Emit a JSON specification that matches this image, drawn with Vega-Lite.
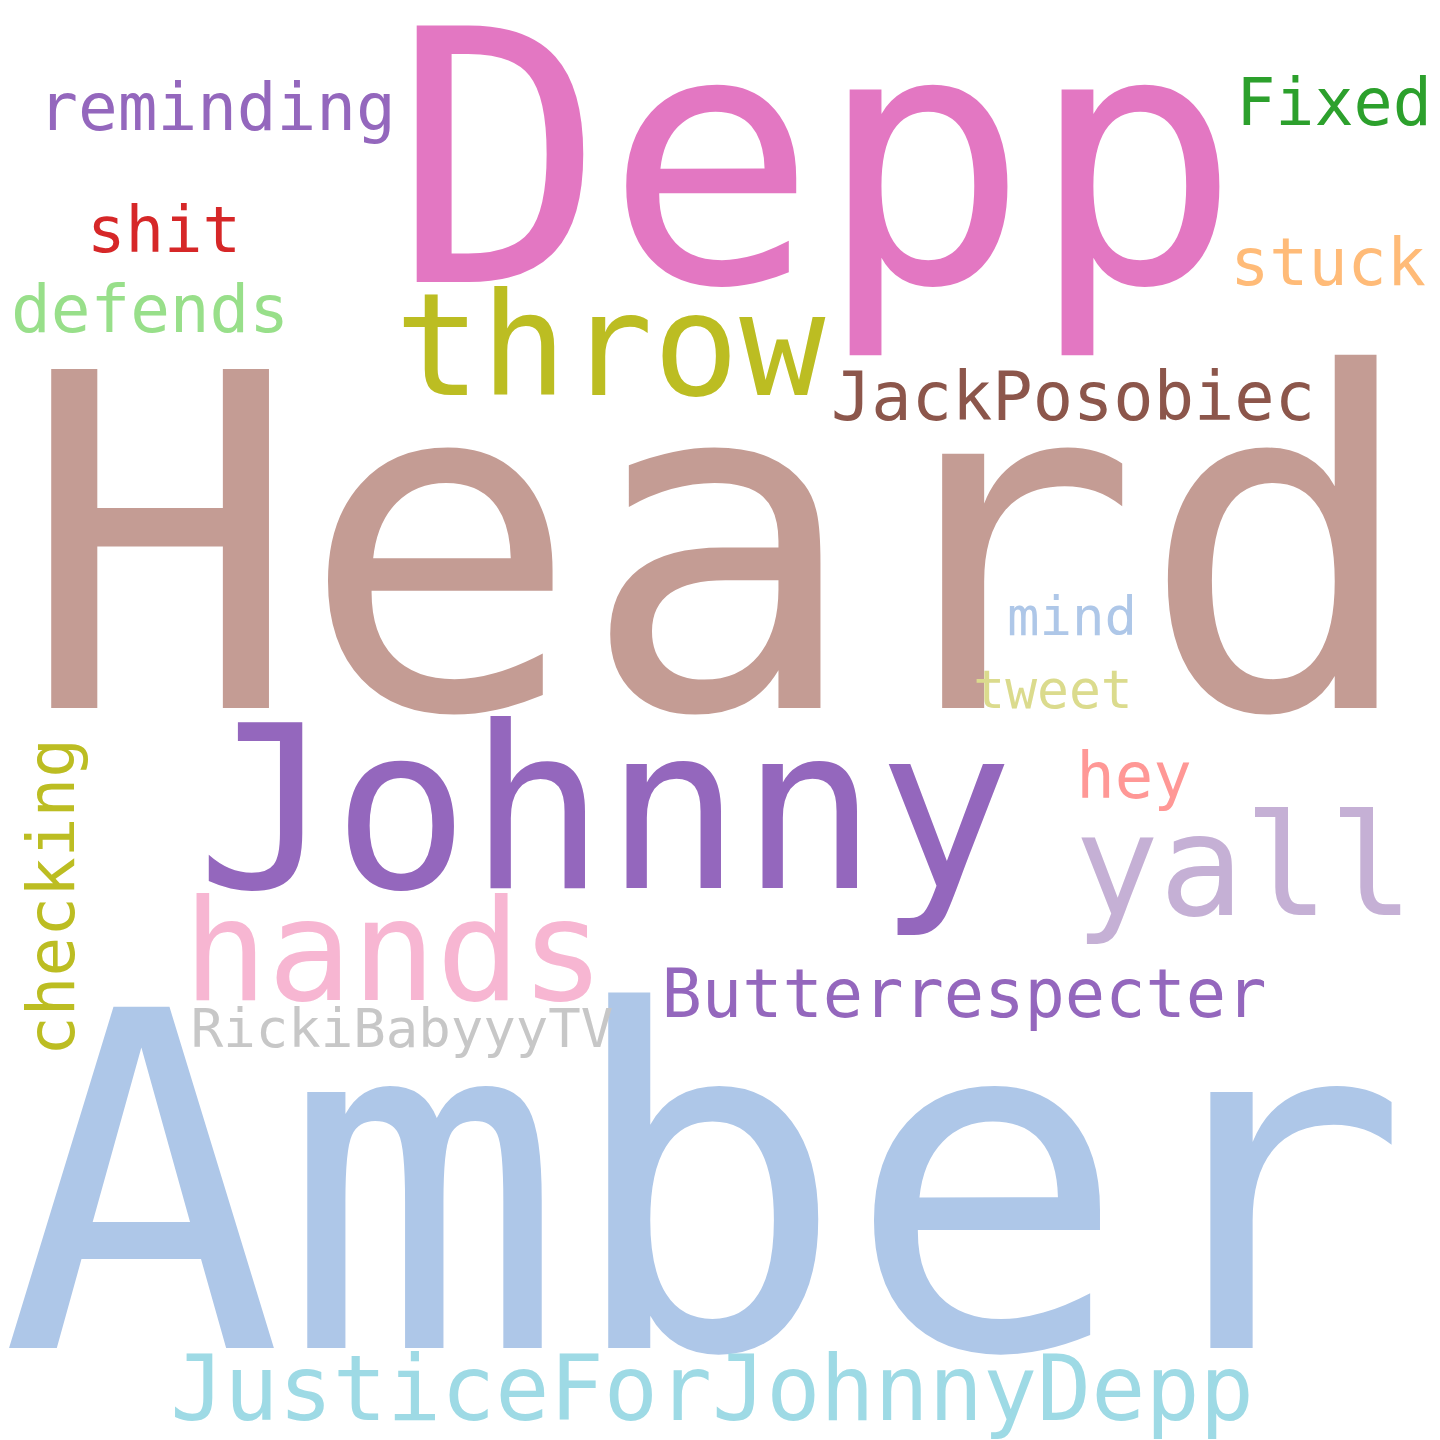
{
  "$schema": "https://vega.github.io/schema/vega-lite/v6.json",
  "width": 1440,
  "height": 1440,
  "autosize": {"type": "fit", "contains": "padding"},
  "padding": 0,
  "background": "white",
  "config": {"view": {"stroke": null}},
  "data": {
    "values": [
      {"word": "Heard", "x": 718, "y": 671, "size": 465, "color": "#c49c94", "angle": 0},
      {"word": "Amber", "x": 703, "y": 1311, "size": 468, "color": "#aec7e8", "angle": 0},
      {"word": "Depp", "x": 815, "y": 245, "size": 352, "color": "#e377c2", "angle": 0},
      {"word": "Johnny", "x": 603, "y": 851, "size": 226, "color": "#9467bd", "angle": 0},
      {"word": "throw", "x": 608, "y": 358, "size": 143, "color": "#bcbd22", "angle": 0},
      {"word": "yall", "x": 1242, "y": 878, "size": 141, "color": "#c5b0d5", "angle": 0},
      {"word": "hands", "x": 392, "y": 963, "size": 140, "color": "#f7b6d2", "angle": 0},
      {"word": "JusticeForJohnnyDepp", "x": 710, "y": 1383, "size": 90, "color": "#9edae5", "angle": 0},
      {"word": "Butterrespecter", "x": 962, "y": 980, "size": 67, "color": "#9467bd", "angle": 0},
      {"word": "RickiBabyyyTV", "x": 400, "y": 1010, "size": 54, "color": "#c7c7c7", "angle": 0},
      {"word": "checking", "x": 72, "y": 860, "size": 66, "color": "#bcbd22", "angle": 270},
      {"word": "reminding", "x": 215, "y": 93, "size": 66, "color": "#9467bd", "angle": 0},
      {"word": "Fixed", "x": 1332, "y": 88, "size": 65, "color": "#2ca02c", "angle": 0},
      {"word": "shit", "x": 162, "y": 215, "size": 64, "color": "#d62728", "angle": 0},
      {"word": "defends", "x": 148, "y": 295, "size": 66, "color": "#98df8a", "angle": 0},
      {"word": "stuck", "x": 1326, "y": 248, "size": 65, "color": "#ffbb78", "angle": 0},
      {"word": "JackPosobiec", "x": 1071, "y": 383, "size": 67, "color": "#8c564b", "angle": 0},
      {"word": "mind", "x": 1070, "y": 598, "size": 54, "color": "#aec7e8", "angle": 0},
      {"word": "tweet", "x": 1051, "y": 671, "size": 53, "color": "#dbdb8d", "angle": 0},
      {"word": "hey", "x": 1132, "y": 761, "size": 64, "color": "#ff9896", "angle": 0}
    ]
  },
  "mark": {"type": "text", "font": "DejaVu Sans Mono", "align": "center", "baseline": "alphabetic"},
  "encoding": {
    "x": {"field": "x", "type": "quantitative", "scale": {"domain": [0, 1440], "range": [0, 1440]}, "axis": null},
    "y": {"field": "y", "type": "quantitative", "scale": {"domain": [0, 1440], "range": [0, 1440]}, "axis": null},
    "text": {"field": "word"},
    "size": {"field": "size", "type": "quantitative", "scale": null},
    "color": {"field": "color", "type": "nominal", "scale": null},
    "angle": {"field": "angle", "type": "quantitative", "scale": null}
  }
}
